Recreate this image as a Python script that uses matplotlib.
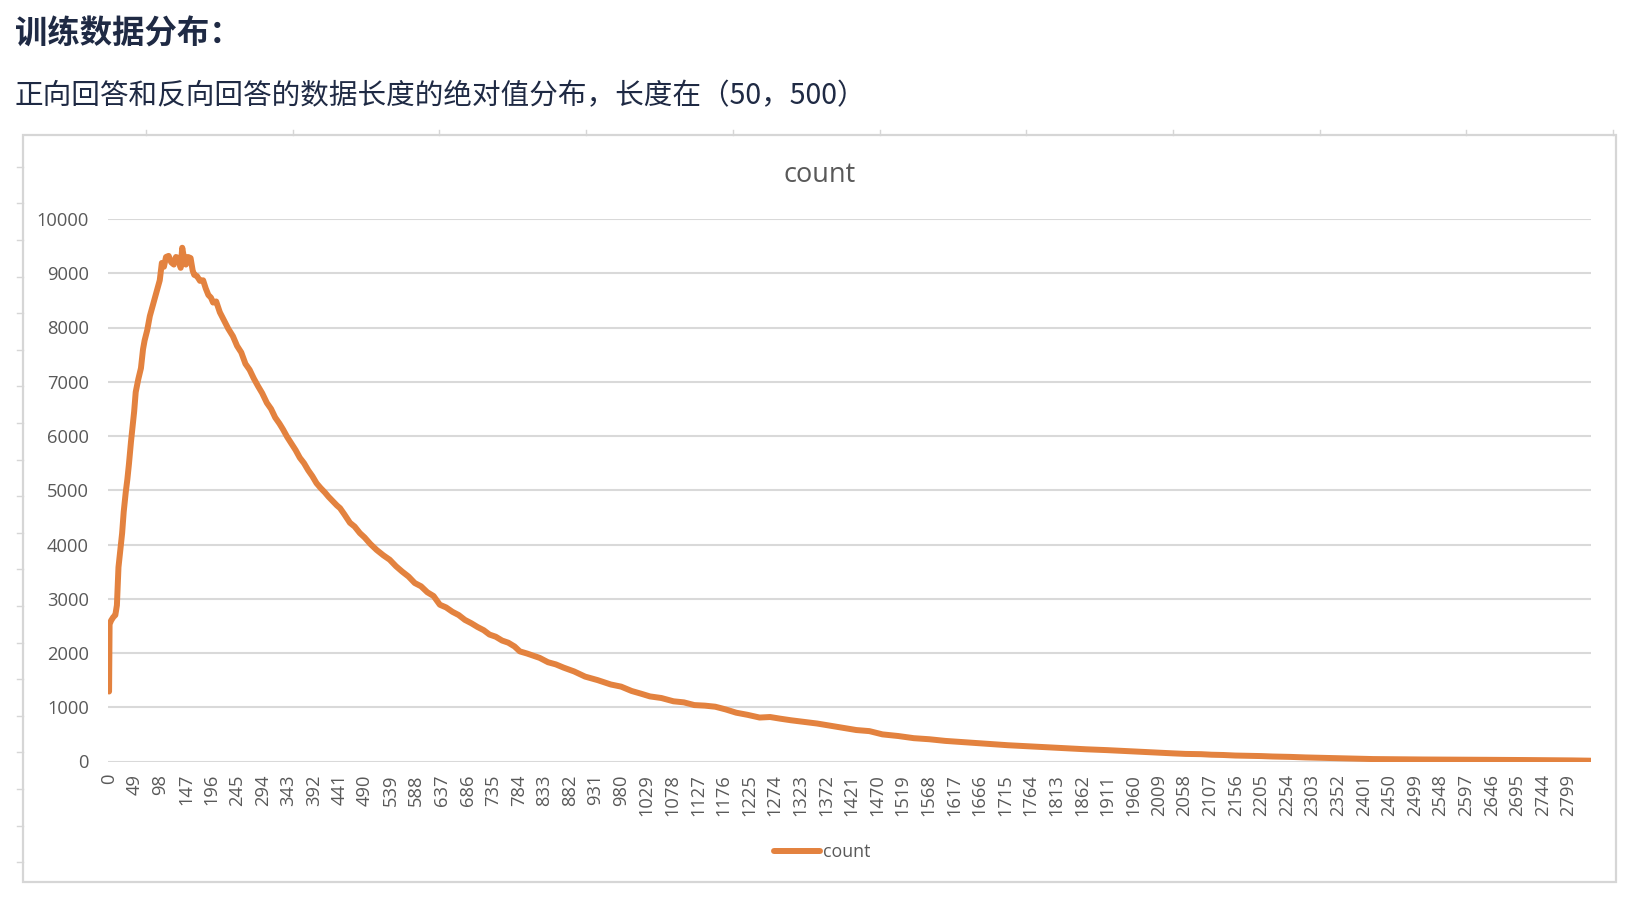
import matplotlib.pyplot as plt
from matplotlib.lines import Line2D
from matplotlib.patches import Rectangle

# category index (length bucket) -> count
IDX = [0, 1, 4, 8, 12, 15, 18, 21, 25, 28, 32, 35, 38, 42, 45, 48, 51, 56, 61, 65,
       68, 73, 78, 82, 87, 92, 97, 101, 105, 109, 114, 119, 124, 128, 133, 137, 140,
       144, 147, 151, 156, 160, 163, 168, 174, 180, 185, 190, 195, 199, 205, 212,
       220, 228, 237, 245, 253, 261, 269, 277, 285, 293, 302, 310, 318, 326, 333,
       341, 349, 357, 365, 373, 381, 389, 397, 405, 413, 420, 428, 436, 442, 450,
       461, 470, 480, 489, 500, 512, 525, 537, 549, 561, 573, 585, 597, 609, 621,
       633, 645, 657, 669, 681, 693, 705, 717, 728, 740, 752, 764, 776, 786, 800,
       812, 824, 840, 855, 870, 890, 911, 935, 960, 980, 1000, 1018, 1035, 1057,
       1080, 1100, 1120, 1140, 1160, 1180, 1200, 1222, 1245, 1265, 1284, 1305, 1330,
       1355, 1380, 1405, 1430, 1455, 1480, 1510, 1540, 1570, 1600, 1630, 1660, 1690,
       1720, 1750, 1781, 1810, 1837, 1870, 1909, 1940, 1970, 2000, 2036, 2060, 2090,
       2110, 2132, 2155, 2180, 2205, 2227, 2260, 2290, 2320, 2355, 2385, 2419, 2450,
       2480, 2515, 2547, 2580, 2610, 2640, 2675, 2710, 2740, 2770, 2800, 2835]
COUNT = [1290, 2530, 2600, 2660, 2700, 2880, 3580, 3850, 4210, 4600, 4970, 5200, 5480,
         5900, 6180, 6450, 6810, 7050, 7250, 7600, 7760, 7950, 8210, 8350, 8520, 8700,
         8870, 9190, 9120, 9300, 9320, 9200, 9160, 9300, 9280, 9100, 9470, 9250, 9160,
         9300, 9280, 9050, 8970, 8950, 8860, 8870, 8720, 8600, 8550, 8460, 8480, 8280,
         8130, 7980, 7840, 7660, 7540, 7330, 7220, 7060, 6920, 6790, 6610, 6500, 6340,
         6230, 6120, 5980, 5860, 5740, 5600, 5500, 5370, 5260, 5130, 5040, 4960, 4880,
         4800, 4720, 4670, 4560, 4400, 4330, 4210, 4130, 4010, 3900, 3800, 3720, 3600,
         3500, 3410, 3290, 3230, 3120, 3050, 2890, 2840, 2760, 2700, 2610, 2550, 2480,
         2420, 2340, 2300, 2230, 2190, 2120, 2030, 1990, 1950, 1910, 1830, 1790, 1730,
         1660, 1565, 1500, 1420, 1380, 1300, 1250, 1200, 1170, 1110, 1090, 1040, 1030,
         1010, 960, 900, 860, 810, 820, 790, 760, 730, 700, 660, 620, 580, 560, 500,
         470, 430, 410, 380, 360, 340, 320, 300, 285, 270, 255, 240, 225, 210, 195,
         180, 165, 150, 140, 135, 125, 120, 110, 105, 100, 92, 85, 75, 68, 59, 52, 45,
         42, 40, 37, 35, 33, 32, 31, 30, 27, 25, 22, 20, 15]
N_CATEGORIES = 2836
LABEL_STEP = 49
XTICK_LABELS = ["0", "49", "98", "147", "196", "245", "294", "343", "392", "441",
                "490", "539", "588", "637", "686", "735", "784", "833", "882", "931",
                "980", "1029", "1078", "1127", "1176", "1225", "1274", "1323", "1372",
                "1421", "1470", "1519", "1568", "1617", "1666", "1715", "1764", "1813",
                "1862", "1911", "1960", "2009", "2058", "2107", "2156", "2205", "2254",
                "2303", "2352", "2401", "2450", "2499", "2548", "2597", "2646", "2695",
                "2744", "2799"]
YTICKS = [0, 1000, 2000, 3000, 4000, 5000, 6000, 7000, 8000, 9000, 10000]

HEADING = "训练数据分布："
SUBTITLE = "正向回答和反向回答的数据长度的绝对值分布，长度在（50，500）"
SERIES = "count"

ORANGE = "#E3823F"
GRID = "#D9D9D9"
TEXT = "#595959"
NAVY = "#1F2A44"
CJK = ["Noto Sans CJK SC", "DejaVu Sans"]

plt.rcParams["font.family"] = ["Open Sans", "DejaVu Sans"]

W, H = 1644, 906
fig = plt.figure(figsize=(W / 100, H / 100), dpi=100)


def fx(px):
    return px / W


def fy(py):
    return 1 - py / H


# page text above the embedded chart
fig.text(fx(15), fy(34), HEADING, family=CJK, fontsize=23.3, fontweight="bold",
         color=NAVY, va="center", ha="left")
fig.text(fx(15), fy(96), SUBTITLE, family=CJK, fontsize=20.6,
         color=NAVY, va="center", ha="left")

# chart frame and spreadsheet ruler marks
fig.add_artist(Rectangle((fx(23), fy(882)), fx(1616) - fx(23), fy(135) - fy(882),
                         transform=fig.transFigure, fill=False,
                         edgecolor="#D6D6D6", linewidth=1.6))
x = 146.0
while x < 1616:
    fig.add_artist(Line2D([fx(x), fx(x)], [fy(130), fy(135)], transform=fig.transFigure,
                          color="#D6D6D6", linewidth=1))
    x += 146.7
y = 166.7
while y < 880:
    fig.add_artist(Line2D([fx(17), fx(23)], [fy(y), fy(y)], transform=fig.transFigure,
                          color="#D6D6D6", linewidth=1))
    y += 36.6

ax = fig.add_axes([fx(107.5), fy(761.5), fx(1591) - fx(107.5), fy(219) - fy(761.5)])
ax.plot(IDX, COUNT, color=ORANGE, linewidth=4.3, solid_joinstyle="round",
        solid_capstyle="round", label=SERIES)

ax.set_xlim(-3, N_CATEGORIES)
ax.set_ylim(0, 10000)
ax.set_yticks(YTICKS)
ax.set_yticklabels([str(v) for v in YTICKS])
ax.set_xticks([i * LABEL_STEP for i in range(len(XTICK_LABELS))])
ax.set_xticklabels(XTICK_LABELS, rotation=90, va="top", ha="center")
ax.tick_params(axis="both", length=0, labelsize=13.2, labelcolor=TEXT)
ax.tick_params(axis="y", pad=13.5)
ax.tick_params(axis="x", pad=9)
ax.grid(axis="y", color=GRID, linewidth=1.5)
ax.set_axisbelow(True)
for s in ax.spines.values():
    s.set_visible(False)

fig.text(fx(820), fy(175), SERIES, fontsize=19.5, color=TEXT, ha="center", va="center")
fig.legend(loc="center", bbox_to_anchor=(fx(822), fy(852)), frameon=False,
           fontsize=12.8, labelcolor=TEXT, handlelength=2.6, handletextpad=0.15,
           borderpad=0)

fig.savefig("out.png", dpi=100, facecolor="white")
